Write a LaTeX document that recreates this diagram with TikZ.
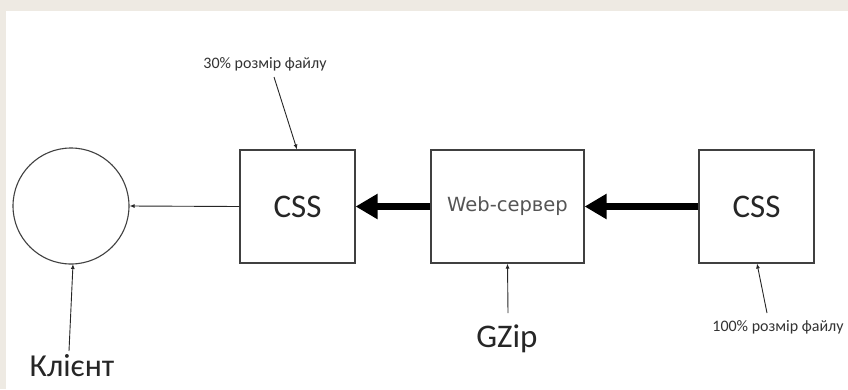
\documentclass[tikz,border=0pt]{standalone}
\usepackage{fontspec}
\setmainfont{Carlito}
\newfontfamily\serverfont{DejaVu Sans}
\usetikzlibrary{arrows.meta}
\definecolor{frame}{HTML}{EEEAE3}
\definecolor{edge}{HTML}{404040}
\definecolor{servertext}{HTML}{555555}
\tikzset{
  box/.style={draw=edge, line width=1.2pt, fill=white, minimum width=115pt, minimum height=113pt, inner sep=0pt},
  client/.style={draw=edge, line width=1.1pt, circle, minimum size=116pt, inner sep=0pt},
  bigarrow/.style={line width=6.5pt, -{Triangle[length=22pt,width=24pt]}},
  thinarrow/.style={line width=0.9pt, draw=black!85, -{Latex[length=5pt,width=4pt]}},
  note/.style={font=\fontsize{16}{18}\selectfont, text=black!80, inner sep=0pt},
  big/.style={font=\fontsize{33}{36}\selectfont, text=black!85, inner sep=0pt}
}
\begin{document}
\begin{tikzpicture}[x=1pt,y=-1pt]
  % page frame and white sheet
  \fill[frame] (0,0) rectangle (848,389);
  \fill[white] (6,11) rectangle (848,389);
  \useasboundingbox (0,0) rectangle (848,389);

  % main blocks
  \node[client] (cl) at (71,206) {};
  \node[box] (css1) at (297.5,206.5) {};
  \node[big] at (css1.center) {CSS};
  \node[box, minimum width=153pt] (web) at (507.5,206.5) {};
  \node[font=\serverfont\fontsize{19.5}{22}\selectfont, text=servertext, inner sep=0pt] at (web.center) {Web-сервер};
  \node[box] (css2) at (756.5,206.5) {};
  \node[big] at (css2.center) {CSS};

  % labels
  \node[note] (n30) at (265,64) {30\% розмір файлу};
  \node[note] (n100) at (778,327) {100\% розмір файлу};
  \node[big] (gz) at (507,339) {GZip};
  \node[big, font=\fontsize{32}{36}\selectfont] (kl) at (72,366) {Клієнт};

  \coordinate (a30) at (274,77);
  \coordinate (a100) at (767,313);
  \coordinate (agz) at (508,313);
  \coordinate (akl) at (69,351);

  % data flow
  \draw[bigarrow] (css2.west) -- (web.east);
  \draw[bigarrow] (web.west) -- (css1.east);
  \draw[thinarrow] (css1.west) -- (cl.east);

  % annotation pointers
  \draw[thinarrow] (a30) -- (297,149.5);
  \draw[thinarrow] (a100) -- (757,263.5);
  \draw[thinarrow] (agz) -- (web.south);
  \draw[thinarrow] (akl) -- (73,264);
\end{tikzpicture}
\end{document}
